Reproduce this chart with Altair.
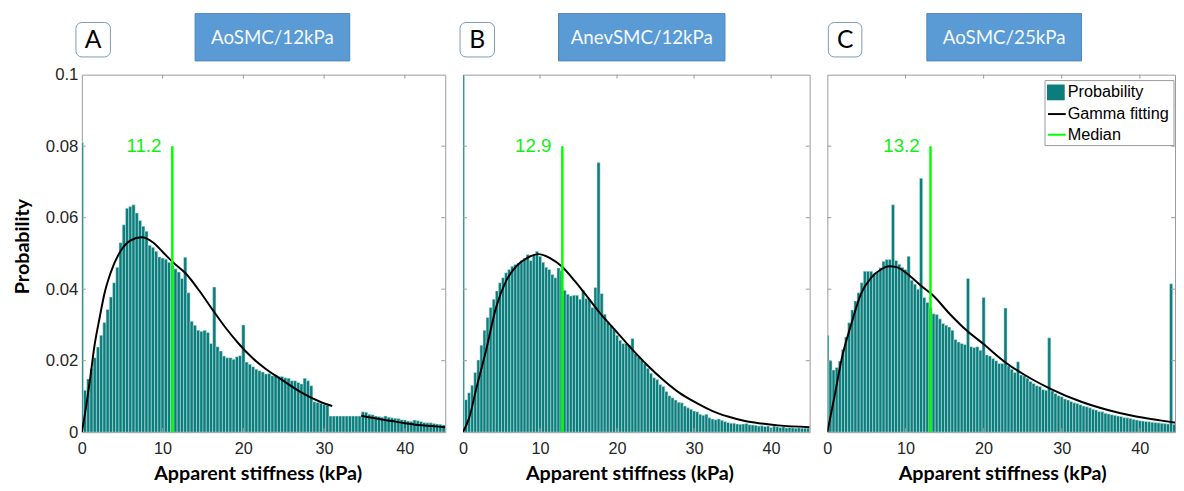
import altair as alt
import pandas as pd

# ---------------- data ----------------
BIN_WIDTH = 0.4
X_TICKS = [0, 10, 20, 30, 40]
Y_TICKS = [0, 0.02, 0.04, 0.06, 0.08, 0.1]

A_PROB = [0.081, 0.0117, 0.0149, 0.0178, 0.0208, 0.0238, 0.0271, 0.0307, 0.0343, 0.0378,
          0.0418, 0.0461, 0.053, 0.058, 0.0626, 0.0631, 0.0636, 0.0613, 0.0592, 0.0576,
          0.0562, 0.0523, 0.0517, 0.0506, 0.049, 0.0487, 0.0484, 0.0475, 0.0466, 0.0457,
          0.0448, 0.043, 0.0489, 0.039, 0.031, 0.0299, 0.0285, 0.0282, 0.0285, 0.0279,
          0.0248, 0.0406, 0.0239, 0.0227, 0.0213, 0.0208, 0.0208, 0.0204, 0.0211, 0.0214,
          0.030, 0.0196, 0.019, 0.0183, 0.0176, 0.0172, 0.0168, 0.0163, 0.0164, 0.0158,
          0.016, 0.0156, 0.0156, 0.0152, 0.0151, 0.0144, 0.0144, 0.0139, 0.0135, 0.0151,
          0.0144, 0.013, 0.0085, 0.0083, 0.008, 0.0077, 0.0075, 0.0045, 0.0045, 0.0045,
          0.0045, 0.0045, 0.0045, 0.0045, 0.0045, 0.0045, 0.0045, 0.0057, 0.0056, 0.005,
          0.0049, 0.0045, 0.0044, 0.0042, 0.0045, 0.0042, 0.004, 0.0039, 0.0038, 0.0035,
          0.0034, 0.0031, 0.003, 0.0034, 0.0032, 0.003, 0.0027, 0.0026, 0.0026, 0.0024,
          0.0023, 0.0022, 0.002]

B_PROB = [0.1, 0.0091, 0.011, 0.0131, 0.0167, 0.0202, 0.0243, 0.0285, 0.0321, 0.0349,
          0.0372, 0.0395, 0.0418, 0.0432, 0.0446, 0.0455, 0.0464, 0.0469, 0.0473, 0.048,
          0.0487, 0.0497, 0.048, 0.0497, 0.0506, 0.0492, 0.0475, 0.0461, 0.0455, 0.0441,
          0.0432, 0.0459, 0.0452, 0.0397, 0.0386, 0.0381, 0.0383, 0.0383, 0.0372, 0.0397,
          0.0374, 0.0372, 0.0349, 0.0405, 0.0754, 0.0388, 0.033, 0.0307, 0.0298, 0.0289,
          0.0271, 0.0257, 0.0248, 0.0248, 0.0244, 0.0262, 0.022, 0.0211, 0.0202, 0.0191,
          0.0179, 0.0165, 0.0152, 0.0147, 0.0133, 0.0128, 0.0114, 0.0102, 0.0096, 0.009,
          0.0084, 0.0082, 0.0073, 0.0068, 0.0064, 0.0059, 0.0057, 0.005, 0.0047, 0.005,
          0.004, 0.0037, 0.0035, 0.0037, 0.0033, 0.003, 0.0027, 0.0025, 0.0025, 0.0023,
          0.0022, 0.0023, 0.0024, 0.0021, 0.002, 0.0019, 0.0017, 0.0018, 0.0016, 0.0017,
          0.0013, 0.0017, 0.0015, 0.0013, 0.0015, 0.0012, 0.0013, 0.0012, 0.0011, 0.0012,
          0.0011, 0.0011, 0.0011]

C_PROB = [0.0271, 0.020, 0.0174, 0.0181, 0.0199, 0.0231, 0.0266, 0.0306, 0.0342, 0.0367,
          0.039, 0.0418, 0.045, 0.045, 0.045, 0.0443, 0.0449, 0.046, 0.0478, 0.0483,
          0.0483, 0.0636, 0.048, 0.047, 0.0461, 0.0455, 0.0492, 0.0425, 0.0414, 0.040,
          0.071, 0.0377, 0.0363, 0.0349, 0.0331, 0.0329, 0.0317, 0.0304, 0.0299, 0.0294,
          0.0285, 0.0259, 0.0252, 0.0248, 0.0245, 0.043, 0.0239, 0.0237, 0.0239, 0.0229,
          0.0377, 0.0216, 0.0213, 0.0206, 0.020, 0.0192, 0.0192, 0.0347, 0.0185, 0.0176,
          0.0167, 0.0197, 0.016, 0.0157, 0.0151, 0.0142, 0.0136, 0.013, 0.0128, 0.0119,
          0.0117, 0.0264, 0.0115, 0.0108, 0.0102, 0.0099, 0.0093, 0.009, 0.0086, 0.0082,
          0.008, 0.0077, 0.0073, 0.0071, 0.0068, 0.0064, 0.0062, 0.0058, 0.0057, 0.0053,
          0.0051, 0.0049, 0.0047, 0.0045, 0.0044, 0.0041, 0.004, 0.0038, 0.0036, 0.0034,
          0.0032, 0.0031, 0.003, 0.0029, 0.0028, 0.0027, 0.0026, 0.0025, 0.0024, 0.0023,
          0.0415, 0.0022, 0.0021]

# gamma fitting curves; seg splits the gap in panel A
A_FIT_X = [0, 0.5, 1.0, 1.55, 2.2, 2.8, 3.58, 4.8, 6.0, 7.4, 8.86, 10.1, 11.3, 12.9, 14.5,
           16.2, 17.8, 19.4, 21.1, 22.7, 24.6, 27.1, 29.5, 31.0,
           34.6, 36.5, 38.4, 40.0, 41.6, 43.3, 45.0]
A_FIT_Y = [0, 0.0068, 0.0145, 0.024, 0.032, 0.0388, 0.0447, 0.0507, 0.0536, 0.0545, 0.053,
           0.0502, 0.0475, 0.0443, 0.0397, 0.0342, 0.0292, 0.0248, 0.0208, 0.0178, 0.0149,
           0.0112, 0.0085, 0.0073,
           0.0046, 0.0038, 0.0031, 0.0025, 0.002, 0.0017, 0.0014]
A_FIT_SEG = [1] * 24 + [2] * 7

B_FIT_X = [0, 0.8, 1.74, 3.0, 4.3, 5.6, 6.9, 8.3, 9.8, 11.3, 12.8, 14.5, 16.2, 17.9, 19.6,
           21.7, 23.9, 26.0, 28.1, 30.3, 32.4, 34.5, 36.6, 38.8, 40.9, 45.0]
B_FIT_Y = [0, 0.004, 0.0123, 0.0229, 0.0349, 0.0423, 0.0464, 0.0487, 0.0498, 0.0487, 0.0464,
           0.0423, 0.0377, 0.033, 0.0289, 0.0238, 0.0188, 0.0146, 0.011, 0.0082, 0.0059,
           0.0043, 0.0031, 0.0024, 0.0019, 0.0014]
B_FIT_SEG = [1] * len(B_FIT_X)

C_FIT_X = [0, 0.5, 1.0, 1.8, 3.07, 4.3, 5.6, 6.85, 7.9, 8.95, 10.6, 12.3, 13.3, 15.7, 17.8,
           19.9, 22.8, 26.2, 28.5, 32.5, 35.9, 39.2, 42.6, 44.8]
C_FIT_Y = [0, 0.0055, 0.011, 0.0202, 0.0303, 0.0387, 0.0432, 0.0455, 0.0464, 0.0461, 0.0436,
           0.0404, 0.0387, 0.033, 0.0285, 0.0248, 0.0195, 0.0148, 0.0122, 0.0085, 0.0062,
           0.0045, 0.0033, 0.0026]
C_FIT_SEG = [1] * len(C_FIT_X)

MEDIANS = [11.2, 12.9, 13.2]
MEDIAN_LABELS = ["11.2", "12.9", "13.2"]
MEDIAN_TOP = 0.08
LETTERS = ["A", "B", "C"]
TITLES = ["AoSMC/12kPa", "AnevSMC/12kPa", "AoSMC/25kPa"]
LEGEND_LABELS = ["Probability", "Gamma fitting", "Median"]

# ---------------- styling ----------------
TEAL = "#0b7d7c"
GREEN = "#00ff00"
GREEN_TXT = "#12ee12"
BOX_BLUE = "#5b9bd5"
AXIS_GREY = "#9a9a9a"
H = 363


def panel(prob, fx, fy, fseg, median, mlabel, letter, title, width, xmax,
          letter_box, blue_box, show_y, legend, title_shift):
    xs = alt.Scale(domain=[0, xmax], nice=False, zero=False)
    ys = alt.Scale(domain=[0, 0.1], nice=False)
    xaxis = alt.Axis(values=X_TICKS, format="d", ticks=False, domain=False, grid=False,
                     labelFont="Liberation Sans", labelFontSize=16.5, labelColor="#262626",
                     labelPadding=9, labelFlush=False,
                     title="Apparent stiffness (kPa)", titleFont="Lato", titleFontSize=20,
                     titleFontWeight="bold", titleColor="#000000", titlePadding=7,
                     titleX=width / 2 + title_shift)
    if show_y:
        yaxis = alt.Axis(values=Y_TICKS, format=".2~f", ticks=False, domain=False, grid=False,
                         labelFont="Liberation Sans", labelFontSize=17, labelColor="#262626",
                         labelPadding=4, title="Probability", titleFont="Lato",
                         titleFontSize=20, titleFontWeight="bold", titleColor="#000000",
                         titleX=-60, titleY=174, titleBaseline="middle", titleAngle=-90)
    else:
        yaxis = None

    bars_df = pd.DataFrame({
        "lo": [max(0.0, k * BIN_WIDTH - BIN_WIDTH / 2) for k in range(len(prob))],
        "hi": [k * BIN_WIDTH + BIN_WIDTH / 2 for k in range(len(prob))],
        "p": prob,
        "z": [0.0] * len(prob),
    })
    fit_df = pd.DataFrame({"x": fx, "y": fy, "seg": fseg})
    med_df = pd.DataFrame({"m": [median], "top": [MEDIAN_TOP], "bot": [0.0], "label": [mlabel]})
    xt_df = pd.DataFrame({"t": [v for v in X_TICKS if 0 < v < xmax]})
    yt_df = pd.DataFrame({"t": [v for v in Y_TICKS if 0 < v < 0.1]})
    dummy = pd.DataFrame({"d": [0]})

    X = lambda f: alt.X(f, scale=xs, axis=xaxis)
    Y = lambda f: alt.Y(f, scale=ys, axis=yaxis)

    layers = []
    layers.append(alt.Chart(bars_df).mark_rect(color=TEAL, stroke="#d2ecec", strokeWidth=0.5,
                                               clip=True)
                  .encode(x=X("lo:Q"), x2="hi:Q", y=Y("p:Q"), y2="z:Q"))
    layers.append(alt.Chart(fit_df).mark_line(color="black", strokeWidth=2, interpolate="monotone",
                                              clip=True)
                  .encode(x=X("x:Q"), y=Y("y:Q"), detail="seg:N"))
    layers.append(alt.Chart(med_df).mark_rule(color=GREEN, strokeWidth=2.5)
                  .encode(x=X("m:Q"), y=Y("top:Q"), y2="bot:Q"))
    layers.append(alt.Chart(med_df).mark_text(align="right", baseline="middle", dx=-11,
                                              font="Liberation Sans", fontSize=19, color=GREEN_TXT)
                  .encode(x=X("m:Q"), y=Y("top:Q"), text="label:N"))
    # inward ticks on the box
    layers.append(alt.Chart(xt_df).mark_rule(color=AXIS_GREY, strokeWidth=1)
                  .encode(x=X("t:Q"), y=alt.value(0), y2=alt.value(4)))
    layers.append(alt.Chart(xt_df).mark_rule(color=AXIS_GREY, strokeWidth=1)
                  .encode(x=X("t:Q"), y=alt.value(H), y2=alt.value(H - 4)))
    layers.append(alt.Chart(yt_df).mark_rule(color=AXIS_GREY, strokeWidth=1)
                  .encode(y=Y("t:Q"), x=alt.value(0), x2=alt.value(4)))
    layers.append(alt.Chart(yt_df).mark_rule(color=AXIS_GREY, strokeWidth=1)
                  .encode(y=Y("t:Q"), x=alt.value(width), x2=alt.value(width - 4)))
    # panel letter box and coloured title box
    lx0, lx1 = letter_box
    layers.append(alt.Chart(dummy).mark_rect(fill="white", stroke="#7f99b8", strokeWidth=1,
                                             cornerRadius=6)
                  .encode(x=alt.value(lx0), x2=alt.value(lx1), y=alt.value(-53), y2=alt.value(-18)))
    layers.append(alt.Chart(dummy).mark_text(text=letter, font="Lato", fontSize=25,
                                             align="center", baseline="middle", color="black")
                  .encode(x=alt.value((lx0 + lx1) / 2), y=alt.value(-35)))
    bx0, bx1 = blue_box
    layers.append(alt.Chart(dummy).mark_rect(fill=BOX_BLUE, stroke="#4a84bd", strokeWidth=1)
                  .encode(x=alt.value(bx0), x2=alt.value(bx1), y=alt.value(-62), y2=alt.value(-14)))
    layers.append(alt.Chart(dummy).mark_text(text=title, font="Lato", fontSize=19,
                                             align="center", baseline="middle", color="#f4f8ff")
                  .encode(x=alt.value((bx0 + bx1) / 2), y=alt.value(-37)))
    if legend:
        lg = dict(x0=221, x1=352, y0=6, y1=72)
        layers.append(alt.Chart(dummy).mark_rect(fill="white", stroke="#999999", strokeWidth=1)
                      .encode(x=alt.value(lg["x0"]), x2=alt.value(lg["x1"]),
                              y=alt.value(lg["y0"]), y2=alt.value(lg["y1"])))
        layers.append(alt.Chart(dummy).mark_rect(fill=TEAL)
                      .encode(x=alt.value(223), x2=alt.value(241), y=alt.value(10), y2=alt.value(26)))
        layers.append(alt.Chart(dummy).mark_rule(color="black", strokeWidth=2)
                      .encode(x=alt.value(224), x2=alt.value(242), y=alt.value(40)))
        layers.append(alt.Chart(dummy).mark_rule(color=GREEN, strokeWidth=2)
                      .encode(x=alt.value(224), x2=alt.value(242), y=alt.value(61)))
        for lbl, yy in zip(LEGEND_LABELS, [18, 40, 61]):
            layers.append(alt.Chart(dummy).mark_text(text=lbl, font="Liberation Sans", fontSize=16.5,
                                                     align="left", baseline="middle", color="black")
                          .encode(x=alt.value(244), y=alt.value(yy)))
    return alt.layer(*layers).properties(width=width, height=H)


pA = panel(A_PROB, A_FIT_X, A_FIT_Y, A_FIT_SEG, MEDIANS[0], MEDIAN_LABELS[0], LETTERS[0],
           TITLES[0], 369, 45, (-6, 29), (115, 272), True, False, -6)
pB = panel(B_PROB, B_FIT_X, B_FIT_Y, B_FIT_SEG, MEDIANS[1], MEDIAN_LABELS[1], LETTERS[1],
           TITLES[1], 352, 45, (-3, 32), (97, 266), False, False, -7)
pC = panel(C_PROB, C_FIT_X, C_FIT_Y, C_FIT_SEG, MEDIANS[2], MEDIAN_LABELS[2], LETTERS[2],
           TITLES[2], 353, 44.5, (1, 35), (101, 258), False, True, 1)

chart = (alt.hconcat(pA, pB, pC, spacing=18, bounds="flush")
         .properties(padding={"left": 4, "top": 1, "right": 0, "bottom": 0},
                     background="white")
         .configure_view(stroke=AXIS_GREY, strokeWidth=1))

chart.save("out.html", embed_options={"renderer": "svg", "actions": False})
